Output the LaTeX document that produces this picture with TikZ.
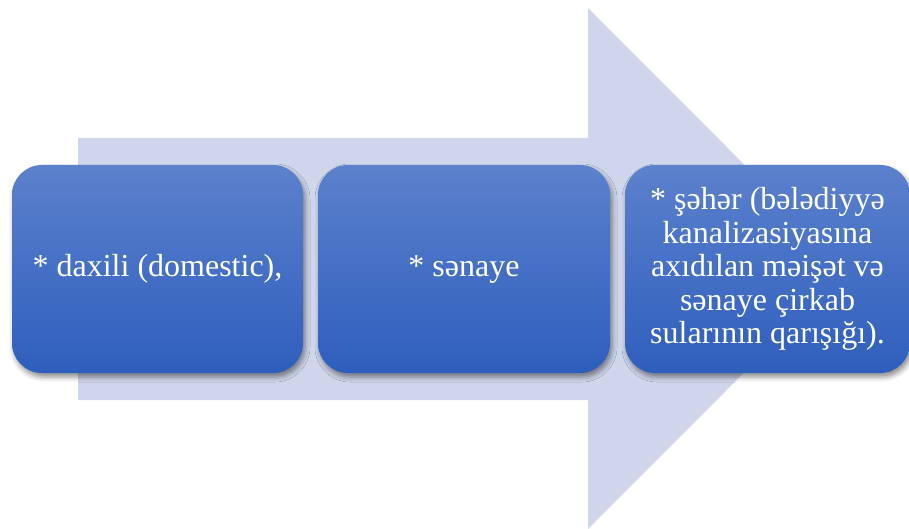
\documentclass[tikz,border=0pt]{standalone}
\usepackage{fontspec}
\setmainfont{Liberation Serif}
\usetikzlibrary{shadows.blur}
\definecolor{arrowc}{HTML}{CFD5EA}
\definecolor{boxtop}{HTML}{5C81CC}
\definecolor{boxbot}{HTML}{2E5EBD}
\tikzset{
  stagebox/.style={rounded corners=30pt, top color=boxtop, bottom color=boxbot,
    draw=none, minimum height=208pt, inner sep=0pt,
    text=white, align=center, font=\fontsize{32}{33.5}\selectfont,
    blur shadow={shadow xshift=2pt, shadow yshift=-4pt, shadow blur radius=5pt, shadow opacity=45}},
}
\begin{document}
\begin{tikzpicture}[x=1pt,y=-1pt]
\useasboundingbox (0,0) rectangle (909,529);
\fill[arrowc] (78,138) -- (588,138) -- (588,8) -- (848,268.5) -- (588,529) -- (588,400) -- (78,400) -- cycle;
\node[stagebox, minimum width=291pt] (b1) at (157.5,269) {* daxili (domestic),};
\node[stagebox, minimum width=292pt] (b2) at (464,269) {* sənaye};
\node[stagebox, minimum width=285pt] (b3) at (767.5,269) {* şəhər (bələdiyyə\\kanalizasiyasına\\axıdılan məişət və\\sənaye çirkab\\sularının qarışığı).};
\end{tikzpicture}
\end{document}
